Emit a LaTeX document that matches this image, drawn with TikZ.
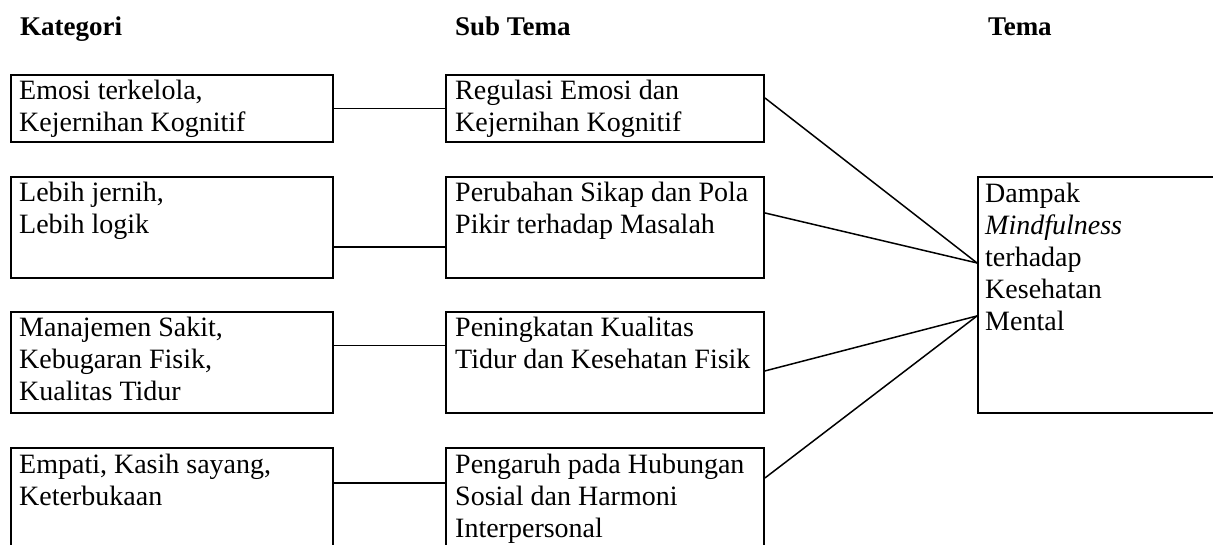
\documentclass[tikz,border=0pt]{standalone}
\usepackage{fontspec}
\setmainfont{Liberation Serif}
\begin{document}
\begin{tikzpicture}[x=1pt,y=-1pt,
  box/.style={draw, line width=1.9pt, anchor=north west, inner sep=0pt},
  txt/.style={anchor=base west, inner sep=0pt, font=\fontsize{28}{32}\selectfont},
  head/.style={anchor=base west, inner sep=0pt, font=\fontsize{27}{32}\selectfont\bfseries},
  link/.style={line width=1.5pt}]
\useasboundingbox (0,0) rectangle (1213,545);
\clip (0,0) rectangle (1213,545);
\newcommand{\ml}[2]{\parbox[t]{#1pt}{\raggedright #2}}
% headings
\node[head] (h1) at (20,36) {Kategori};
\node[head] (h2) at (455,36) {Sub Tema};
\node[head] (h3) at (988,36) {Tema};
% left column
\node[box, minimum width=322pt, minimum height=67pt] (k1) at (10,74) {};
\node[box, minimum width=322pt, minimum height=101pt] (k2) at (10,176) {};
\node[box, minimum width=322pt, minimum height=101pt] (k3) at (10,311) {};
\node[box, minimum width=322pt, minimum height=110pt] (k4) at (10,447) {};
\node[txt] (tk1) at (19,100) {\ml{310}{Emosi terkelola,\\Kejernihan Kognitif}};
\node[txt] (tk2) at (19,202) {\ml{310}{Lebih jernih,\\Lebih logik}};
\node[txt] (tk3) at (19,337) {\ml{310}{Manajemen Sakit,\\Kebugaran Fisik,\\Kualitas Tidur}};
\node[txt] (tk4) at (19,473) {\ml{310}{Empati, Kasih sayang,\\Keterbukaan}};
% middle column
\node[box, minimum width=318pt, minimum height=67pt] (m1) at (445,74) {};
\node[box, minimum width=318pt, minimum height=101pt] (m2) at (445,176) {};
\node[box, minimum width=318pt, minimum height=101pt] (m3) at (445,311) {};
\node[box, minimum width=318pt, minimum height=110pt] (m4) at (445,447) {};
\node[txt] (tm1) at (455,100) {\ml{305}{Regulasi Emosi dan\\Kejernihan Kognitif}};
\node[txt] (tm2) at (455,202) {\ml{305}{Perubahan Sikap dan Pola\\Pikir terhadap Masalah}};
\node[txt] (tm3) at (455,337) {\ml{305}{Peningkatan Kualitas\\Tidur dan Kesehatan Fisik}};
\node[txt] (tm4) at (455,473) {\ml{305}{Pengaruh pada Hubungan\\Sosial dan Harmoni\\Interpersonal}};
% right column
\node[box, minimum width=260pt, minimum height=236pt] (r) at (977,176) {};
\node[txt] (tr) at (985,203) {\ml{220}{Dampak\\\textit{Mindfulness}\\terhadap\\Kesehatan\\Mental}};
% connectors left -> middle
\draw[link] (k1.east) -- (m1.west);
\draw[link] ([yshift=-19.5pt]k2.east) -- ([yshift=-19.5pt]m2.west);
\draw[link] ([yshift=17pt]k3.east) -- ([yshift=17pt]m3.west);
\draw[link] ([yshift=-36pt]k4.north east) -- ([yshift=-36pt]m4.north west);
% connectors middle -> right
\coordinate (ra) at ([yshift=32pt]r.west);
\coordinate (rb) at ([yshift=-21pt]r.west);
\draw[link] ([yshift=10.5pt]m1.east) -- (ra);
\draw[link] ([yshift=14.5pt]m2.east) -- (ra);
\draw[link] ([yshift=-8.5pt]m3.east) -- (rb);
\draw[link] ([yshift=-31pt]m4.north east) -- (rb);
\end{tikzpicture}
\end{document}
